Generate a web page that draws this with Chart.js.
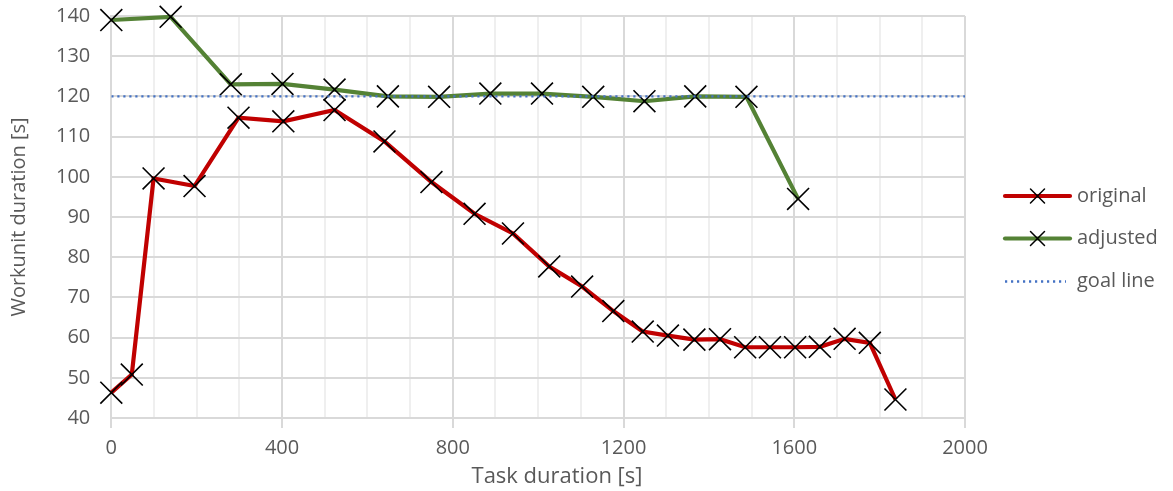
<!DOCTYPE html>
<html>
<head>
<meta charset="utf-8">
<script src="https://cdn.jsdelivr.net/npm/chart.js@4"></script>
<style>
html,body{margin:0;padding:0;background:#fff;}
#wrap{width:1173px;height:491px;}
</style>
</head>
<body>
<div id="wrap"><canvas id="c" width="1173" height="491"></canvas></div>
<script>
const originalX = [0, 48, 99, 195, 298, 403, 523, 640, 750, 851, 941, 1026, 1103, 1176, 1245, 1304, 1366, 1426, 1485, 1543, 1602, 1660, 1718, 1777, 1837];
const originalY = [46.3, 50.8, 99.6, 97.7, 114.7, 113.8, 116.6, 108.8, 98.7, 90.8, 85.9, 77.7, 72.7, 66.6, 61.5, 60.5, 59.5, 59.6, 57.6, 57.6, 57.6, 57.7, 59.7, 58.7, 44.6];
const adjustedX = [0, 139, 280, 401, 523, 648, 768, 888, 1009, 1129, 1249, 1368, 1488, 1609];
const adjustedY = [139.0, 139.8, 123.0, 123.1, 121.7, 120.0, 119.9, 120.7, 120.7, 119.9, 118.8, 120.0, 119.9, 94.5];
const goalX = [0, 2000];
const goalY = [120, 120];
const seriesNames = ['original', 'adjusted', 'goal line'];
const xTickLabels = [0, 400, 800, 1200, 1600, 2000];
const xTitle = 'Task duration [s]';
const yTitle = 'Workunit duration [s]';

const FONT = '"Open Sans", sans-serif';
const FS = 20;
const TXT = '#595959';
const RED = '#C00000', GREEN = '#548235', BLUE = '#4472C4';
const GOAL_DASH = [2.2, 3.8];

function pts(xs, ys){ return xs.map((x,i)=>({x:x, y:ys[i]})); }

const legendPlugin = {
  id: 'sideLegend',
  afterDraw(chart){
    const ctx = chart.ctx;
    const x0 = 1005, x1 = 1070, tx = 1077;
    const rows = [196, 238.5, 281.5];
    const styles = [
      {color: RED, w: 4.2, dash: [], marker: true},
      {color: GREEN, w: 4.2, dash: [], marker: true},
      {color: BLUE, w: 2.4, dash: GOAL_DASH, marker: false}
    ];
    ctx.save();
    rows.forEach((y, i) => {
      const s = styles[i];
      ctx.beginPath();
      ctx.strokeStyle = s.color;
      ctx.lineWidth = s.w;
      ctx.lineCap = s.marker ? 'round' : 'butt';
      ctx.setLineDash(s.dash);
      ctx.moveTo(x0, y); ctx.lineTo(s.marker ? x1 : x1 - 4, y);
      ctx.stroke();
      ctx.setLineDash([]);
      if (s.marker) {
        const mx = (x0 + x1) / 2, r = 7;
        ctx.beginPath();
        ctx.strokeStyle = '#000';
        ctx.lineWidth = 1.5;
        ctx.moveTo(mx - r, y - r); ctx.lineTo(mx + r, y + r);
        ctx.moveTo(mx - r, y + r); ctx.lineTo(mx + r, y - r);
        ctx.stroke();
      }
      ctx.fillStyle = TXT;
      ctx.font = FS + 'px ' + FONT;
      ctx.textBaseline = 'middle';
      ctx.textAlign = 'left';
      ctx.fillText(seriesNames[i], tx, y);
    });
    // x axis title
    ctx.font = '22px ' + FONT;
    ctx.textAlign = 'center';
    ctx.textBaseline = 'middle';
    ctx.fillStyle = TXT;
    ctx.fillText(xTitle, 557, 477);
    ctx.restore();
  }
};

const markerCommon = {
  pointStyle: 'crossRot',
  pointRadius: 15.5,
  pointHoverRadius: 15.5,
  pointBorderColor: '#000',
  pointBackgroundColor: '#000',
  pointBorderWidth: 1.6,
  borderWidth: 4.2,
  tension: 0,
  fill: false,
  clip: false
};

new Chart(document.getElementById('c'), {
  type: 'line',
  data: {
    datasets: [
      Object.assign({label: seriesNames[0], data: pts(originalX, originalY), borderColor: RED, order: 2}, markerCommon),
      Object.assign({label: seriesNames[1], data: pts(adjustedX, adjustedY), borderColor: GREEN, order: 1}, markerCommon),
      {label: seriesNames[2], data: pts(goalX, goalY), borderColor: BLUE, borderWidth: 2.4, borderDash: GOAL_DASH, pointRadius: 0, order: 0, fill: false}
    ]
  },
  plugins: [legendPlugin],
  options: {
    responsive: false,
    animation: false,
    events: [],
    layout: {autoPadding: false, padding: {top: 0, right: 208, bottom: 23, left: 1}},
    plugins: {legend: {display: false}, tooltip: {enabled: false}},
    scales: {
      x: {
        type: 'linear',
        min: 0, max: 2000,
        ticks: {
          stepSize: 100,
          autoSkip: false,
          maxRotation: 0,
          color: TXT,
          font: {family: FONT, size: FS},
          padding: 8,
          callback: (v) => xTickLabels.includes(v) ? String(v) : ''
        },
        grid: {
          color: (c) => (c.tick && c.tick.value % 400 === 0) ? '#d9d9d9' : '#efefef',
          tickColor: (c) => (c.tick && c.tick.value % 400 === 0) ? '#d9d9d9' : 'rgba(0,0,0,0)',
          lineWidth: 2,
          tickLength: 10
        },
        border: {color: '#d9d9d9', width: 2},
        title: {display: false}
      },
      y: {
        min: 40, max: 140,
        ticks: {
          stepSize: 10,
          color: TXT,
          font: {family: FONT, size: FS},
          padding: 4
        },
        grid: {color: '#d9d9d9', lineWidth: 2, drawTicks: true, tickLength: 17, tickColor: 'rgba(0,0,0,0)'},
        border: {color: '#d9d9d9', width: 2},
        title: {display: true, text: yTitle, color: TXT, font: {family: FONT, size: FS}, padding: {top: 6, bottom: 21}}
      }
    }
  }
});
</script>
</body>
</html>
